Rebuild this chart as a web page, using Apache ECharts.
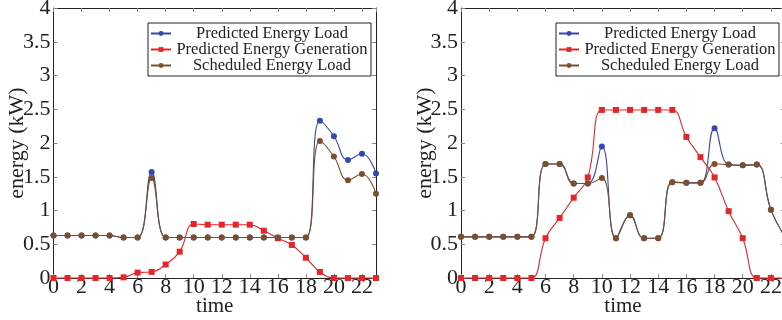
<!DOCTYPE html>
<html>
<head>
<meta charset="utf-8">
<script src="https://cdn.jsdelivr.net/npm/echarts@6/dist/echarts.min.js"></script>
<style>
  html, body { margin: 0; padding: 0; background: #fff; }
  #chart { width: 782px; height: 320px; }
</style>
</head>
<body>
<div id="chart"></div>
<script>
// hours of the day
const hours = [0,1,2,3,4,5,6,7,8,9,10,11,12,13,14,15,16,17,18,19,20,21,22,23];
const seriesNames = ['Predicted Energy Load', 'Predicted Energy Generation', 'Scheduled Energy Load'];

// left panel
const leftLoad  = [0.63,0.63,0.63,0.63,0.63,0.60,0.60,1.57,0.60,0.60,0.60,0.60,0.60,0.60,0.60,0.60,0.60,0.60,0.60,2.33,2.10,1.75,1.84,1.55];
const leftGen   = [0,0,0,0,0,0.01,0.08,0.09,0.20,0.39,0.80,0.79,0.79,0.79,0.79,0.70,0.59,0.49,0.30,0.09,0,0,0,0];
const leftSched = [0.63,0.63,0.63,0.63,0.63,0.60,0.60,1.48,0.60,0.60,0.60,0.60,0.60,0.60,0.60,0.60,0.60,0.60,0.60,2.03,1.80,1.45,1.54,1.25];

// right panel
const rightLoad  = [0.61,0.61,0.61,0.61,0.61,0.61,1.69,1.69,1.40,1.40,1.95,0.59,0.93,0.59,0.59,1.42,1.41,1.41,2.22,1.68,1.67,1.68,1.01,0.61];
const rightGen   = [0,0,0,0,0,0,0.59,0.89,1.19,1.49,2.49,2.49,2.49,2.49,2.49,2.49,2.09,1.79,1.49,0.99,0.59,0,0,0];
const rightSched = [0.61,0.61,0.61,0.61,0.61,0.61,1.69,1.69,1.40,1.40,1.48,0.59,0.93,0.59,0.59,1.42,1.41,1.41,1.69,1.68,1.67,1.68,1.01,0.61];

const colors = ['#3447b0', '#e4262a', '#7a4f2a'];
const symbols = ['circle', 'rect', 'circle'];
const serif = 'Liberation Serif';
const frame = '#222';
const tickCol = '#888';
const textCol = '#222';

const chart = echarts.init(document.getElementById('chart'), null, { renderer: 'canvas' });

const grids = [
  { left: 53.5, top: 8, width: 322.5, height: 270, outerBoundsMode: 'none', containLabel: false },
  { left: 461, top: 8, width: 324, height: 270, outerBoundsMode: 'none', containLabel: false }
];

const lineCfg = { show: true, onZero: false, lineStyle: { color: frame, width: 1 } };
const tickCfg = { show: true, inside: true, length: 4, lineStyle: { color: tickCol } };

function xAxes(g) {
  return [{
    type: 'value', gridIndex: g, min: 0, max: 23, interval: 2, position: 'bottom',
    name: 'time', nameLocation: 'middle', nameGap: 18, nameMoveOverlap: false,
    nameTextStyle: { fontFamily: serif, fontSize: 21, color: textCol },
    axisLine: lineCfg,
    axisTick: tickCfg,
    axisLabel: { fontFamily: serif, fontSize: 22, color: textCol, margin: -2, showMaxLabel: false },
    splitLine: { show: false }
  }, {
    type: 'value', gridIndex: g, min: 0, max: 23, interval: 2, position: 'top',
    axisLine: lineCfg,
    axisTick: tickCfg,
    axisLabel: { show: false },
    splitLine: { show: false }
  }];
}

function yAxes(g) {
  return [{
    type: 'value', gridIndex: g, min: 0, max: 4, interval: 0.5, position: 'left',
    name: 'energy (kW)', nameLocation: 'middle', nameGap: 25, nameRotate: 90, nameMoveOverlap: false,
    nameTextStyle: { fontFamily: serif, fontSize: 22, color: textCol },
    axisLine: lineCfg,
    axisTick: tickCfg,
    axisLabel: { fontFamily: serif, fontSize: 22, color: textCol, margin: 3 },
    splitLine: { show: false }
  }, {
    type: 'value', gridIndex: g, min: 0, max: 4, interval: 0.5, position: 'right',
    axisLine: lineCfg,
    axisTick: tickCfg,
    axisLabel: { show: false },
    splitLine: { show: false }
  }];
}

function makeSeries(g, data) {
  return data.map((vals, i) => ({
    name: seriesNames[i],
    type: 'line',
    xAxisIndex: g * 2,
    yAxisIndex: g * 2,
    data: hours.map((h, k) => [h, vals[k]]),
    smooth: 0.45,
    symbol: symbols[i],
    symbolSize: 6,
    color: colors[i],
    lineStyle: { width: 1.1, color: colors[i] },
    itemStyle: { color: colors[i] },
    clip: false,
    animation: false
  }));
}

function legendFor(left) {
  return {
    orient: 'vertical',
    left: left, top: 23,
    data: seriesNames,
    itemWidth: 20, itemHeight: 6, itemGap: -1,
    padding: [2, 3, 2, 2],
    borderColor: '#222', borderWidth: 1, backgroundColor: '#fff',
    selectedMode: false,
    formatter: n => '{c|' + n + '}',
    textStyle: {
      rich: { c: { fontFamily: serif, fontSize: 16.5, color: textCol, width: 192, align: 'center', lineHeight: 16 } }
    }
  };
}

const option = {
  animation: false,
  grid: grids,
  xAxis: [...xAxes(0), ...xAxes(1)],
  yAxis: [...yAxes(0), ...yAxes(1)],
  legend: [legendFor(148), legendFor(556)],
  series: [...makeSeries(0, [leftLoad, leftGen, leftSched]), ...makeSeries(1, [rightLoad, rightGen, rightSched])]
};
chart.setOption(option);
</script>
</body>
</html>
